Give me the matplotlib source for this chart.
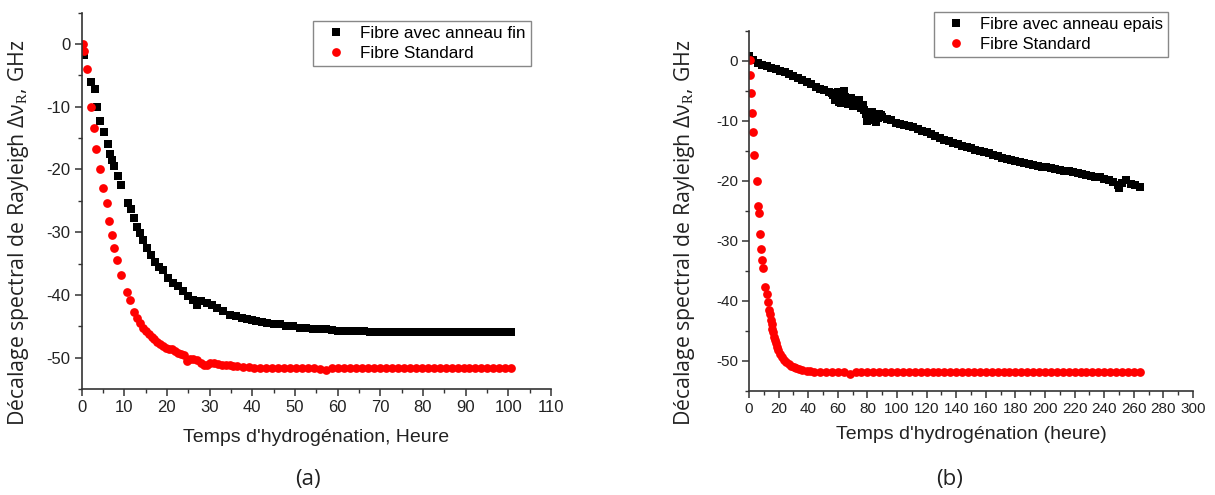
import matplotlib
matplotlib.use("Agg")
import matplotlib.pyplot as plt
from matplotlib.ticker import MultipleLocator

# ---------------- data ----------------
# Panel (a)
a_fin_x = [0.6, 2.2, 3.1, 3.6, 4.4, 5.2, 6.1, 6.7, 7.1, 7.7, 8.5, 9.3, 10.8, 11.5, 12.3,
           12.9, 13.7, 14.5, 15.3, 16.2, 17.2, 18.1, 19.2, 20.3, 21.5, 22.7, 23.8, 25.0,
           26.2, 27.0, 28.1, 29.3, 30.5, 31.7, 33.2, 34.8, 36.3, 37.5, 38.7, 40.0, 41.0,
           42.2, 43.4, 45.0, 46.5, 48.0, 49.6, 51.2, 52.7, 54.2, 55.7, 57.2, 58.7, 60.2,
           61.7, 63.2, 64.7, 66.2, 67.7, 69.2, 70.7, 72.2, 73.7, 75.2, 76.7, 78.2, 79.7,
           81.2, 82.7, 84.2, 85.7, 87.2, 88.7, 90.2, 91.7, 93.2, 94.7, 96.2, 97.7, 99.2,
           100.7]
a_fin_y = [-1.75, -6.0, -7.2, -10.0, -12.2, -14.1, -16.0, -17.5, -18.5, -19.4, -21.0, -22.5,
           -25.4, -26.3, -27.8, -29.1, -30.1, -31.2, -32.5, -33.6, -34.7, -35.5, -36.1,
           -37.3, -38.1, -38.6, -39.4, -40.2, -40.8, -41.6, -41.0, -41.3, -41.6, -42.1,
           -42.6, -43.2, -43.4, -43.6, -43.8, -44.0, -44.2, -44.3, -44.5, -44.6, -44.7,
           -44.9, -45.0, -45.2, -45.3, -45.4, -45.5, -45.5, -45.6, -45.7, -45.7, -45.7,
           -45.7, -45.8, -45.9, -45.9, -45.9, -45.9, -45.9, -45.9, -45.9, -45.9, -45.9,
           -45.9, -45.9, -45.9, -45.9, -45.9, -45.9, -45.9, -45.9, -45.9, -45.9, -45.9,
           -45.9, -45.9, -45.9]

a_std_x = [0.3, 0.7, 1.4, 2.2, 3.0, 3.4, 4.3, 5.1, 6.0, 6.5, 7.1, 7.6, 8.4, 9.2, 10.6,
           11.4, 12.3, 12.9, 13.7, 14.4, 15.1, 15.8, 16.5, 17.1, 17.8, 18.5, 19.2, 19.8,
           20.5, 21.2, 21.9, 22.5, 23.2, 23.9, 24.8, 25.4, 26.1, 27.0, 27.9, 28.6, 29.3,
           30.2, 31.1, 32.0, 32.9, 33.8, 34.7, 35.6, 36.5, 37.8, 39.2, 40.5, 41.9, 43.3,
           44.7, 46.1, 47.5, 48.9, 50.3, 51.7, 53.1, 54.5, 55.9, 57.3, 58.7, 60.1, 61.5,
           62.9, 64.3, 65.7, 67.1, 68.5, 69.9, 71.3, 72.7, 74.1, 75.5, 76.9, 78.3, 79.7,
           81.1, 82.5, 83.9, 85.3, 86.7, 88.1, 89.5, 90.9, 92.3, 93.7, 95.1, 96.5, 97.9,
           99.3, 100.7]
a_std_y = [0.0, -1.1, -3.9, -10.0, -13.4, -16.8, -20.0, -23.0, -25.4, -28.2, -30.5, -32.5,
           -34.4, -36.9, -39.5, -40.8, -42.8, -43.7, -44.5, -45.2, -45.8, -46.3, -46.7,
           -47.1, -47.5, -47.9, -48.2, -48.4, -48.6, -48.7, -48.9, -49.2, -49.4, -49.6,
           -50.5, -50.2, -50.2, -50.3, -50.8, -51.1, -51.1, -50.9, -50.9, -51.0, -51.1,
           -51.2, -51.2, -51.3, -51.4, -51.5, -51.5, -51.6, -51.7, -51.7, -51.7, -51.7,
           -51.7, -51.7, -51.7, -51.7, -51.7, -51.7, -51.8, -51.9, -51.7, -51.7, -51.7,
           -51.7, -51.7, -51.7, -51.7, -51.7, -51.7, -51.7, -51.7, -51.7, -51.7, -51.7,
           -51.7, -51.7, -51.7, -51.7, -51.7, -51.7, -51.7, -51.7, -51.7, -51.7, -51.7,
           -51.7, -51.7, -51.7, -51.7, -51.7, -51.7]

# Panel (b)
b_epais_x = [0, 3, 6, 9, 12, 15, 18, 21, 24, 27, 30, 33, 36, 39, 42, 45, 48, 51, 54, 56,
             57, 58, 59, 60, 61, 62, 63, 64, 65, 66, 67, 68, 69, 70, 71, 72, 73, 74, 75,
             76, 77, 78, 79, 80, 81, 82, 83, 84, 85, 86, 87, 88, 89, 90, 93, 96, 99, 102,
             105, 108, 111, 114, 117, 120, 123, 126, 129, 132, 135, 138, 141, 144, 147,
             150, 153, 156, 159, 162, 165, 168, 171, 174, 177, 180, 183, 186, 189, 192,
             195, 198, 201, 204, 207, 210, 213, 216, 219, 222, 225, 228, 231, 234, 237,
             240, 243, 246, 249, 250, 252, 255, 258, 261, 264]
b_epais_y = [0.9, 0.2, -0.3, -0.6, -0.9, -1.1, -1.4, -1.6, -1.9, -2.2, -2.5, -2.8, -3.2,
             -3.5, -3.9, -4.3, -4.6, -4.9, -5.2, -5.4, -5.6, -6.5, -5.9, -5.1, -6.8, -7.0,
             -6.3, -5.0, -6.0, -6.8, -7.2, -6.4, -6.2, -7.5, -7.0, -6.8, -6.6, -6.5, -7.4,
             -7.9, -7.3, -8.2, -8.8, -10.0, -9.4, -9.0, -8.5, -9.2, -9.8, -10.2, -9.5,
             -8.8, -9.0, -9.3, -9.6, -9.9, -10.3, -10.5, -10.6, -10.8, -11.0, -11.3, -11.6,
             -11.9, -12.2, -12.5, -12.8, -13.1, -13.3, -13.6, -13.8, -14.1, -14.3, -14.5,
             -14.8, -15.0, -15.2, -15.4, -15.6, -15.9, -16.1, -16.3, -16.5, -16.7, -16.9,
             -17.0, -17.2, -17.4, -17.5, -17.6, -17.7, -17.9, -18.0, -18.2, -18.4, -18.3,
             -18.5, -18.6, -18.8, -19.0, -19.1, -19.3, -19.4, -19.6, -19.9, -20.2, -20.7,
             -21.2, -20.3, -19.8, -20.5, -20.7, -21.0]

b_std_x = [0.4, 0.4, 1.6, 2.3, 2.7, 3.4, 5.2, 5.8, 6.8, 7.4, 8.3, 9.0, 9.7, 10.8, 12.0,
           12.8, 13.5, 14.1, 14.7, 15.3, 15.8, 16.4, 16.9, 17.5, 18.2, 19.0, 19.8, 20.8,
           22.0, 23.4, 25.0, 26.8, 28.6, 30.4, 32.0, 33.8, 36.0, 39.0, 41.5, 44.2, 48, 52,
           56, 60, 64, 68, 72, 76, 80, 84, 88, 92, 96, 100, 104, 108, 112, 116, 120, 124,
           128, 132, 136, 140, 144, 148, 152, 156, 160, 164, 168, 172, 176, 180, 184, 188,
           192, 196, 200, 204, 208, 212, 216, 220, 224, 228, 232, 236, 240, 244, 248, 252,
           256, 260, 264]
b_std_y = [0.2, -2.4, -5.4, -8.7, -11.8, -15.6, -20.0, -24.2, -25.3, -28.9, -31.4, -33.2,
           -34.5, -37.6, -38.8, -40.2, -41.5, -42.1, -43.2, -43.8, -44.6, -45.2, -46.0,
           -46.5, -47.0, -47.7, -48.1, -48.8, -49.3, -49.8, -50.2, -50.5, -50.8, -51.0,
           -51.2, -51.3, -51.5, -51.6, -51.7, -51.8, -51.8, -51.8, -51.8, -51.8, -51.8,
           -52.2, -51.8, -51.8, -51.8, -51.8, -51.8, -51.8, -51.8, -51.8, -51.8, -51.8,
           -51.8, -51.8, -51.8, -51.8, -51.8, -51.8, -51.8, -51.8, -51.8, -51.8, -51.8,
           -51.8, -51.8, -51.8, -51.8, -51.8, -51.8, -51.8, -51.8, -51.8, -51.8, -51.8,
           -51.8, -51.8, -51.8, -51.8, -51.8, -51.8, -51.8, -51.8, -51.8, -51.8, -51.8,
           -51.8, -51.8, -51.8, -51.8, -51.8, -51.8]

# ---------------- labels ----------------
legend_a = ["Fibre avec anneau fin", "Fibre Standard"]
legend_b = ["Fibre avec anneau epais", "Fibre Standard"]
xlabel_a = "Temps d'hydrogénation, Heure"
xlabel_b = "Temps d'hydrogénation (heure)"
ylabel = "Décalage spectral de Rayleigh Δν$_{\\mathrm{R}}$, GHz"

plt.rcParams['font.family'] = ['Liberation Sans', 'DejaVu Sans']
plt.rcParams['mathtext.fontset'] = 'custom'
plt.rcParams['mathtext.rm'] = 'Liberation Serif'
plt.rcParams['axes.unicode_minus'] = False

W, H = 1215, 495
fig = plt.figure(figsize=(W / 100, H / 100), dpi=100)


def box(l, t, r, b):
    return [l / W, 1 - b / H, (r - l) / W, (b - t) / H]


A_L, A_T, A_R, A_B = 81.5, 12.7, 551, 389
B_L, B_T, B_R, B_B = 749, 31, 1193, 391
axa = fig.add_axes(box(A_L, A_T, A_R, A_B))
axb = fig.add_axes(box(B_L, B_T, B_R, B_B))

sq = dict(marker='s', linestyle='none', color='black', markersize=5.4, markeredgewidth=0)
ci = dict(marker='o', linestyle='none', color='#ff0000', markersize=6.3, markeredgewidth=0)

l1, = axa.plot(a_fin_x, a_fin_y, **sq)
l2, = axa.plot(a_std_x, a_std_y, **ci)
m1, = axb.plot(b_epais_x, b_epais_y, **sq)
m2, = axb.plot(b_std_x, b_std_y, **ci)

for ax, xmax, xmaj, xmin_, lsz in [(axa, 110, 10, 5, 12), (axb, 300, 20, 10, 11)]:
    ax.set_xlim(0, xmax)
    ax.set_ylim(-55, 5)
    ax.xaxis.set_major_locator(MultipleLocator(xmaj))
    ax.xaxis.set_minor_locator(MultipleLocator(xmin_))
    ax.yaxis.set_major_locator(MultipleLocator(10))
    ax.yaxis.set_minor_locator(MultipleLocator(5))
    for s in ['top', 'right']:
        ax.spines[s].set_visible(False)
    for s in ['left', 'bottom']:
        ax.spines[s].set_color('#333333')
        ax.spines[s].set_linewidth(1.2)
    ax.tick_params(which='major', direction='out', length=5, width=1.1, color='#333333',
                   labelsize=lsz, labelcolor='#222222', pad=3)
    ax.tick_params(which='minor', direction='out', length=3, width=1.0, color='#333333')
    ax.set_ylabel(ylabel, family=['Open Sans', 'DejaVu Sans'], fontsize=15.3, color='#222222')

axa.set_xlabel(xlabel_a, fontsize=14, color='#222222', labelpad=10)
axb.set_xlabel(xlabel_b, fontsize=14, color='#222222', labelpad=7)
axa.yaxis.set_label_coords((31 - A_L) / (A_R - A_L), (A_B - 232.5) / (A_B - A_T))
axb.yaxis.set_label_coords((697 - B_L) / (B_R - B_L), (B_B - 232.5) / (B_B - B_T))

leg_kw = dict(loc='upper right', bbox_transform=fig.transFigure, fancybox=False,
              edgecolor='#888888', handlelength=2.0, handletextpad=0.45,
              borderpad=0.3, labelspacing=0.3, borderaxespad=0, framealpha=1)
lega = axa.legend([l1, l2], legend_a, bbox_to_anchor=(531 / W, 1 - 20.7 / H),
                  fontsize=12.3, **leg_kw)
lega.get_frame().set_linewidth(1.0)
legb = axb.legend([m1, m2], legend_b, bbox_to_anchor=(1167.7 / W, 1 - 12.3 / H),
                  fontsize=12.0, **leg_kw)
legb.get_frame().set_linewidth(1.0)

fig.text(308 / W, 1 - 480 / H, "(a)", ha='center', va='center', fontsize=16,
         family=['Open Sans', 'DejaVu Sans'], color='#222222')
fig.text(950 / W, 1 - 480 / H, "(b)", ha='center', va='center', fontsize=16,
         family=['Open Sans', 'DejaVu Sans'], color='#222222')

fig.savefig("out.png", dpi=100)
